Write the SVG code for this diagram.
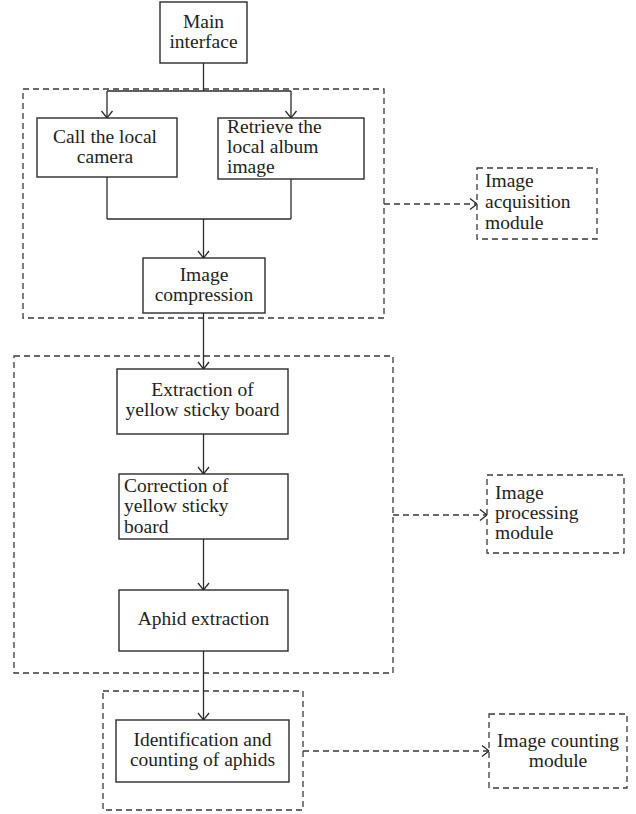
<svg xmlns="http://www.w3.org/2000/svg" width="636" height="814" viewBox="0 0 636 814">
<style>
.box{fill:#fff;stroke:#2b2b2b;stroke-width:1.4}
.grp{fill:none;stroke:#3a3a3a;stroke-width:1.3;stroke-dasharray:6 4}
.mod{fill:#fff;stroke:#3a3a3a;stroke-width:1.3;stroke-dasharray:6 4}
.ln{fill:none;stroke:#2b2b2b;stroke-width:1.3}
.dl{fill:none;stroke:#3a3a3a;stroke-width:1.3;stroke-dasharray:6 4}
text{font-family:"Liberation Serif","DejaVu Serif",serif;font-size:19.5px;fill:#231f20}
.c{text-anchor:middle}
</style>
<defs>
<marker id="arr" markerUnits="userSpaceOnUse" markerWidth="16" markerHeight="16" viewBox="-10 -8 12 16" refX="0" refY="0" orient="auto">
<path d="M-7,-5.5 L0,0 L-7,5.5" fill="none" stroke="#2b2b2b" stroke-width="1.3"/>
</marker>
</defs>
<g id="groups">
<rect id="group-acquisition" class="grp" x="23" y="89" width="361" height="229"/>
<rect id="group-processing" class="grp" x="14" y="356" width="379" height="317"/>
<rect id="group-counting" class="grp" x="103" y="691" width="200" height="119"/>
</g>
<g id="connectors">
<line class="ln" x1="203.5" y1="63" x2="203.5" y2="91"/>
<line class="ln" x1="107" y1="91" x2="291" y2="91"/>
<line class="ln" x1="107" y1="91" x2="107" y2="118" marker-end="url(#arr)"/>
<line class="ln" x1="291" y1="91" x2="291" y2="118" marker-end="url(#arr)"/>
<line class="ln" x1="107" y1="177" x2="107" y2="219"/>
<line class="ln" x1="291" y1="179" x2="291" y2="219"/>
<line class="ln" x1="107" y1="219" x2="291" y2="219"/>
<line class="ln" x1="203.5" y1="219" x2="203.5" y2="258" marker-end="url(#arr)"/>
<line class="ln" x1="203.5" y1="313" x2="203.5" y2="369" marker-end="url(#arr)"/>
<line class="ln" x1="203.5" y1="434" x2="203.5" y2="474" marker-end="url(#arr)"/>
<line class="ln" x1="203.5" y1="539" x2="203.5" y2="590" marker-end="url(#arr)"/>
<line class="ln" x1="203.5" y1="651" x2="203.5" y2="720" marker-end="url(#arr)"/>
<line class="dl" x1="384" y1="204" x2="477" y2="204" marker-end="url(#arr)"/>
<line class="dl" x1="393" y1="515" x2="487" y2="515" marker-end="url(#arr)"/>
<line class="dl" x1="303" y1="751" x2="489" y2="751" marker-end="url(#arr)"/>
</g>
<g id="main-interface">
<rect class="box" x="160" y="2" width="87" height="61"/>
<text class="c" x="203.5" y="28">Main</text>
<text class="c" x="203.5" y="48">interface</text>
</g>
<g id="call-camera">
<rect class="box" x="37" y="118" width="140" height="59"/>
<text class="c" x="105" y="143">Call the local</text>
<text class="c" x="105" y="163">camera</text>
</g>
<g id="retrieve-album">
<rect class="box" x="218" y="118" width="146" height="61"/>
<text x="227" y="133">Retrieve the</text>
<text x="227" y="153">local album</text>
<text x="227" y="173">image</text>
</g>
<g id="image-compression">
<rect class="box" x="143" y="258" width="122" height="55"/>
<text class="c" x="204" y="281">Image</text>
<text class="c" x="204" y="301">compression</text>
</g>
<g id="extraction-board">
<rect class="box" x="117" y="369" width="171" height="65"/>
<text class="c" x="202.5" y="396">Extraction of</text>
<text class="c" x="202.5" y="416">yellow sticky board</text>
</g>
<g id="correction-board">
<rect class="box" x="119" y="474" width="169" height="65"/>
<text x="124" y="492">Correction of</text>
<text x="124" y="512">yellow sticky</text>
<text x="124" y="533">board</text>
</g>
<g id="aphid-extraction">
<rect class="box" x="119" y="590" width="169" height="61"/>
<text class="c" x="203.5" y="625">Aphid extraction</text>
</g>
<g id="identification-counting">
<rect class="box" x="116" y="720" width="173" height="62"/>
<text class="c" x="202.5" y="746">Identification and</text>
<text class="c" x="202.5" y="766">counting of aphids</text>
</g>
<g id="module-acquisition">
<rect class="mod" x="477" y="168" width="120" height="71"/>
<text x="485" y="187">Image</text>
<text x="485" y="208">acquisition</text>
<text x="485" y="229">module</text>
</g>
<g id="module-processing">
<rect class="mod" x="487" y="475" width="137" height="78"/>
<text x="495" y="499">Image</text>
<text x="495" y="519">processing</text>
<text x="495" y="539">module</text>
</g>
<g id="module-counting">
<rect class="mod" x="489" y="714" width="138" height="74"/>
<text class="c" x="558" y="747">Image counting</text>
<text class="c" x="558" y="767">module</text>
</g>
</svg>
